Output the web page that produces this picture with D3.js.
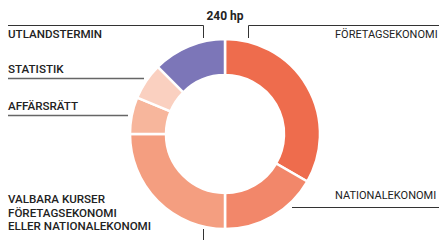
<!DOCTYPE html>
<html>
<head>
<meta charset="utf-8">
<script src="https://cdn.jsdelivr.net/npm/d3@7"></script>
<style>
  html, body { margin: 0; padding: 0; background: #fff; }
  svg { display: block; }
  text { font-family: Roboto, "Noto Sans", sans-serif; fill: #222; }
</style>
</head>
<body>
<div id="chart"></div>
<script>
// kurser i programmet (hp)
const categories = ["Företagsekonomi", "Nationalekonomi", "Valbara kurser", "Affärsrätt", "Statistik", "Utlandstermin"];
const credits = [80, 40, 60, 15, 15, 30];
const colors = ["#ee6c4d", "#f2876a", "#f49e80", "#f7b69c", "#fad0c0", "#7c76b8"];
const totalLabel = "240 hp";

function renderDonut() {
    const width = 439;
    const height = 240;
    const cx = 225, cy = 134;
    const outer = 95, inner = 59;

    const svg = d3.select("#chart").append("svg")
        .attr("width", width)
        .attr("height", height);

    const pie = d3.pie().sort(null).value(d => d)(credits);
    const arc = d3.arc().innerRadius(inner).outerRadius(outer);

    svg.append("g")
        .attr("transform", `translate(${cx},${cy})`)
        .selectAll("path")
        .data(pie)
        .enter().append("path")
        .attr("d", arc)
        .attr("fill", (d, i) => colors[i])
        .attr("stroke", "#fff")
        .attr("stroke-width", 2.5);

    svg.append("text")
        .attr("x", cx).attr("y", 20)
        .attr("text-anchor", "middle")
        .attr("font-size", 12).attr("font-weight", 700)
        .text(totalLabel);

    const lines = svg.append("g").attr("fill", "none").attr("stroke", "#333").attr("stroke-width", 1);
    // utlandstermin
    lines.append("path").attr("d", "M8,25.5H203.5V38");
    // företagsekonomi
    lines.append("path").attr("d", "M248.5,38V25.5H439");
    // statistik, affärsrätt
    lines.append("path").attr("d", "M8,78.5H144").attr("stroke", "#666").attr("stroke-width", 1.5);
    lines.append("path").attr("d", "M8,115.5H128").attr("stroke", "#666").attr("stroke-width", 1.5);
    // nationalekonomi
    lines.append("path").attr("d", "M292,207.5H439");
    // valbara
    lines.append("path").attr("d", "M203.5,229V240");

    const up = s => s.toUpperCase();
    const labels = svg.append("g").attr("font-size", 11.6);
    labels.append("text").attr("x", 8).attr("y", 38).attr("font-weight", 500).text(up(categories[5]));
    labels.append("text").attr("x", 8).attr("y", 73).attr("font-weight", 500).text(up(categories[4]));
    labels.append("text").attr("x", 8).attr("y", 110).attr("font-weight", 500).text(up(categories[3]));
    labels.append("text").attr("x", 335).attr("y", 38).attr("font-size", 11).text(up(categories[0]));
    labels.append("text").attr("x", 335).attr("y", 199).attr("font-size", 11).text(up(categories[1]));

    const valbara = labels.append("text").attr("x", 8).attr("y", 203).attr("font-weight", 500);
    [up(categories[2]), "FÖRETAGSEKONOMI", "ELLER NATIONALEKONOMI"].forEach((t, i) => {
        valbara.append("tspan").attr("x", 8).attr("dy", i ? 13.5 : 0).text(t);
    });
}

renderDonut();
</script>
</body>
</html>
